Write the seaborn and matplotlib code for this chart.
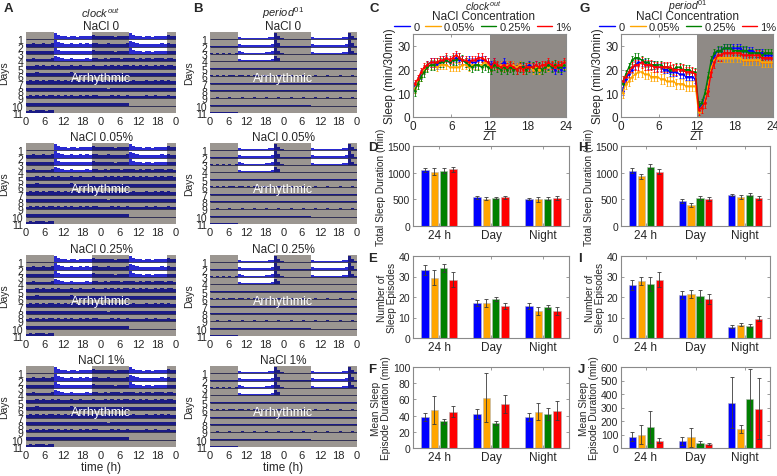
import numpy as np
import pandas as pd
import matplotlib
matplotlib.use("Agg")
import matplotlib.pyplot as plt
from matplotlib.patches import Rectangle
from matplotlib.lines import Line2D
import seaborn as sns

sns.set_style("ticks")
plt.rcParams['font.family'] = ['Liberation Sans', 'DejaVu Sans']
plt.rcParams['font.size'] = 8
plt.rcParams['mathtext.fontset'] = 'custom'
plt.rcParams['mathtext.it'] = 'Liberation Sans:italic'
plt.rcParams['mathtext.rm'] = 'Liberation Sans'

# ---------------- data ----------------
conc = ['0', '0.05%', '0.25%', '1%']
conc_colors = ['#0000ff', '#ffa500', '#008000', '#ff0000']
periods = ['24 h', 'Day', 'Night']
nacl_titles = ['NaCl 0', 'NaCl 0.05%', 'NaCl 0.25%', 'NaCl 1%']
hour_labels = ['0', '6', '12', '18', '0', '6', '12', '18', '0']

# hourly actogram activity (fraction of row height), LD and DD days
clock_ld = [0.50, 0.46, 0.55, 0.48, 0.44, 0.52, 0.47, 0.50, 0.56, 1.00, 0.75, 0.58,
            0.50, 0.45, 0.54, 0.49, 0.44, 0.52, 0.47, 0.55, 0.50, 0.62, 0.53, 0.48]
clock_dd = [0.52, 0.58, 0.48, 0.62, 0.54, 0.60, 0.50, 0.56, 0.61, 0.53, 0.59, 0.49,
            0.57, 0.52, 0.63, 0.55, 0.50, 0.60, 0.54, 0.58, 0.49, 0.61, 0.56, 0.52]
clock_levels = [1.0, 1.0, 0.95, 0.9, 0.9, 0.95, 0.9, 0.85, 0.8, 0.75, 0.75]
period_ld = [0.10, 0.08, 0.10, 0.09, 0.10, 0.08, 0.10, 0.09, 0.10, 0.45, 0.28, 0.24,
             0.22, 0.24, 0.22, 0.24, 0.25, 0.24, 0.27, 0.32, 0.45, 1.00, 0.55, 0.16]
period_dd = [0.12, 0.10, 0.14, 0.10, 0.12, 0.10, 0.14, 0.12, 0.10, 0.12, 0.14, 0.10,
             0.12, 0.10, 0.14, 0.12, 0.10, 0.12, 0.14, 0.10, 0.12, 0.10, 0.14, 0.12]
period_levels = [1.0, 1.0, 1.0, 0.9, 1.0, 1.0, 0.9, 1.0, 0.9, 0.9, 0.9]

# sleep per 30 min, ZT 0-24 (48 bins)
clk_sleep = [
    [13, 15, 18, 20, 22, 23, 23, 22, 23, 24, 24, 23, 24, 25, 24, 24, 23, 24, 23, 23, 24, 24, 24, 23,
     22, 23, 21, 22, 23, 22, 21, 22, 21, 22, 21, 21, 22, 21, 22, 21, 20, 21, 22, 21, 20, 21, 20, 21],
    [12, 15, 17, 20, 21, 22, 22, 21, 22, 22, 22, 21, 21, 21, 21, 22, 22, 21, 22, 22, 22, 22, 23, 22,
     21, 22, 21, 22, 21, 22, 21, 22, 21, 22, 20, 21, 21, 20, 21, 20, 20, 21, 21, 22, 21, 22, 21, 22],
    [11, 14, 17, 19, 21, 22, 22, 23, 23, 23, 24, 23, 24, 24, 25, 24, 23, 22, 21, 22, 22, 21, 22, 21,
     20, 22, 21, 20, 21, 20, 21, 20, 20, 21, 21, 20, 21, 21, 20, 21, 20, 21, 22, 21, 22, 21, 21, 22],
    [14, 16, 19, 21, 22, 23, 23, 23, 24, 24, 25, 24, 25, 26, 25, 24, 24, 23, 24, 24, 25, 25, 24, 23,
     21, 23, 22, 21, 22, 21, 22, 21, 20, 21, 20, 21, 21, 21, 22, 21, 22, 22, 23, 22, 21, 22, 22, 23],
]
clk_sleep_err = [1.8, 1.8, 2.0, 1.8]
per_sleep = [
    [11, 16, 18, 20, 22, 23, 23, 23, 22, 22, 22, 21, 21, 20, 20, 19, 19, 19, 18, 18, 17, 17, 17, 16,
     4, 5, 8, 14, 22, 26, 28, 28, 29, 29, 29, 29, 29, 29, 28, 28, 28, 28, 27, 27, 27, 26, 26, 26],
    [10, 14, 15, 17, 18, 19, 19, 18, 18, 17, 17, 17, 16, 16, 15, 15, 15, 14, 14, 14, 13, 13, 13, 13,
     2, 4, 7, 13, 21, 24, 25, 25, 25, 25, 25, 25, 25, 25, 24, 24, 24, 24, 24, 24, 23, 23, 23, 23],
    [14, 18, 21, 24, 25, 25, 24, 23, 23, 22, 22, 22, 22, 21, 21, 20, 20, 21, 21, 20, 20, 20, 19, 19,
     5, 6, 10, 17, 24, 27, 28, 28, 29, 29, 29, 28, 28, 28, 28, 28, 27, 27, 27, 27, 26, 27, 27, 27],
    [15, 17, 19, 21, 22, 22, 23, 22, 22, 22, 21, 21, 21, 21, 21, 21, 20, 20, 20, 20, 19, 19, 19, 18,
     3, 4, 6, 11, 19, 23, 26, 26, 27, 27, 27, 27, 27, 27, 26, 26, 26, 26, 26, 26, 25, 25, 25, 25],
]
per_sleep_err = [1.6, 2.0, 1.8, 2.2]

# bar panels: rows = concentration, columns = 24 h / Day / Night
clk_total = [[1050, 540, 505], [1020, 510, 500], [1035, 520, 510], [1060, 535, 520]]
clk_total_err = [[40, 25, 25], [60, 30, 50], [45, 20, 30], [55, 30, 35]]
clk_num = [[33, 17, 15.5], [29.5, 17, 13], [34, 19, 15], [28.5, 15.5, 13]]
clk_num_err = [[2.5, 1.5, 1.5], [3.5, 2, 2], [2, 1, 1], [3.5, 1.5, 2]]
clk_dur = [[38, 42, 38], [47, 62, 45], [33, 31, 42], [45, 54, 46]]
clk_dur_err = [[5, 6, 5], [17, 30, 10], [3, 2, 7], [7, 11, 12]]
per_total = [[1040, 470, 580], [930, 390, 550], [1110, 530, 590], [1020, 500, 530]]
per_total_err = [[40, 30, 20], [50, 35, 35], [50, 35, 20], [40, 35, 35]]
per_num = [[26, 21, 5.5], [28, 21.5, 6.5], [26.5, 20.5, 6], [28.5, 19, 9.5]]
per_num_err = [[2.5, 2, 0.7], [2, 2, 0.8], [3.5, 3, 0.8], [3.5, 2.5, 1.2]]
per_dur = [[85, 55, 335], [100, 80, 140], [155, 40, 360], [55, 30, 290]]
per_dur_err = [[30, 30, 190], [70, 70, 30], [120, 15, 225], [20, 10, 225]]

GRAY = '#9b9691'
SHADE = '#8f8a86'
NAVY = '#1b1b85'
BRIGHT = '#2a2ad0'
SPINE = '#8a8a8a'

W, H = 777, 477
fig = plt.figure(figsize=(W / 100, H / 100), dpi=100)


def px_axes(l, t, w, h):
    return fig.add_axes([l / W, 1 - (t + h) / H, w / W, h / H])


def actogram(ax, ld, dd, levels, title, bottom, label_x):
    ax.set_facecolor(GRAY)
    ax.set_xlim(0, 48)
    ax.set_ylim(0, 11)
    ax.add_patch(Rectangle((9, 7), 12, 4, color='white', lw=0))
    ax.add_patch(Rectangle((33, 8), 12, 3, color='white', lw=0))
    for r in range(1, 12):
        base = 11 - r
        for half in (0, 1):
            d = r + half
            if d > 11:
                continue
            prof = ld if d <= 4 else dd
            hrs = [h for h in range(24) if not (d == 1 and h < 9) and not (d == 11 and h >= 9)]
            xs = [24 * half + h for h in hrs]
            hs = [prof[h] * levels[d - 1] * 0.85 for h in hrs]
            cs = [BRIGHT if (d <= 4 and 9 <= h < 21) else NAVY for h in hrs]
            ax.bar(xs, hs, width=1, align='edge', bottom=base, color=cs, lw=0)
        ax.hlines(base, 0, 48, color='#20204a', lw=0.6)
    ax.text(24, 4.7, 'Arrhythmic', color='white', ha='center', va='center', fontsize=9)
    ax.set_yticks([11 - r for r in range(1, 12)])
    ax.set_yticklabels([str(r) for r in range(1, 12)], fontsize=7.5)
    ax.set_xticks(range(0, 49, 6))
    ax.set_xticklabels(hour_labels, fontsize=8)
    ax.tick_params(length=0, pad=2)
    for s in ax.spines.values():
        s.set_visible(False)
    ax.set_ylabel('Days', fontsize=7.5)
    ax.yaxis.set_label_coords(label_x, 0.5)
    ax.set_title(title, fontsize=8.5, pad=2)
    if bottom:
        ax.set_xlabel('time (h)', fontsize=8.5, labelpad=1)


def matlab_box(ax):
    for s in ax.spines.values():
        s.set_visible(True)
        s.set_color(SPINE)
        s.set_linewidth(0.8)
    ax.tick_params(direction='in', top=True, right=True, length=2.5, width=0.6,
                   color=SPINE, labelcolor='#262626', labelsize=7.5, pad=2)


def bar_panel(ax, means, errs, ylim, yticks, ylabel):
    df = pd.DataFrame({
        'period': [p for c in conc for p in periods],
        'conc': [c for c in conc for p in periods],
        'value': [v for row in means for v in row],
    })
    sns.barplot(data=df, x='period', y='value', hue='conc', hue_order=conc, order=periods,
                palette=conc_colors, width=0.72, gap=0.2, errorbar=None, legend=False,
                edgecolor='#b5b5b5', linewidth=0.4, saturation=1, ax=ax)
    bar_groups = [list(cont) for cont in ax.containers]
    for i, bars in enumerate(bar_groups):
        for j, bar in enumerate(bars):
            x = bar.get_x() + bar.get_width() / 2
            ax.errorbar(x, means[i][j], yerr=errs[i][j], fmt='none', ecolor='#3a3a3a',
                        elinewidth=0.6, capsize=1.2, capthick=0.6)
    ax.set_xlim(-0.5, 2.5)
    ax.set_ylim(*ylim)
    ax.set_yticks(yticks)
    ax.set_xlabel('')
    ax.set_ylabel(ylabel, fontsize=7.3, linespacing=1.0, labelpad=1)
    matlab_box(ax)
    ax.tick_params(axis='x', labelsize=8.5)


def line_panel(ax, series, errs, geno, cx):
    ax.axvspan(12, 24, color=SHADE, lw=0, zorder=0)
    zt = [0.25 + 0.5 * k for k in range(48)]
    for i, c in enumerate(conc):
        ax.errorbar(zt, series[i], yerr=errs[i], fmt='none', ecolor=conc_colors[i],
                    elinewidth=0.6, capsize=1.0, capthick=0.6)
    df = pd.DataFrame({
        'zt': zt * 4,
        'sleep': [v for s in series for v in s],
        'conc': [c for c in conc for _ in zt],
    })
    sns.lineplot(data=df, x='zt', y='sleep', hue='conc', hue_order=conc, palette=conc_colors,
                 lw=1.0, marker='o', markersize=2, markeredgewidth=0, legend=False, ax=ax)
    ax.set_xlim(0, 24)
    ax.set_ylim(0, 35)
    ax.set_xticks([0, 6, 12, 18, 24])
    ax.set_yticks([0, 10, 20, 30])
    ax.set_xlabel('ZT', fontsize=8.5, labelpad=-1)
    ax.set_ylabel('Sleep (min/30min)', fontsize=8.5, labelpad=1)
    matlab_box(ax)
    ax.tick_params(labelsize=8.5)
    handles = [Line2D([0], [0], color=c, lw=1.0) for c in conc_colors]
    ax.legend(handles, conc, loc='center', bbox_to_anchor=(cx / W, 1 - 22 / H),
              bbox_transform=fig.transFigure, ncol=4, frameon=False, title='NaCl Concentration',
              title_fontsize=8.5, fontsize=8, handlelength=1.4, handletextpad=0.3,
              columnspacing=0.5, borderpad=0, labelspacing=0.0, borderaxespad=0)
    fig.text(cx / W, 1 - 6.5 / H, geno, ha='center', va='center', fontsize=7.5)


clock_name = r'$\mathit{clock}^{\mathit{out}}$'
period_name = r'$\mathit{period}^{\mathit{01}}$'

tops = [33, 144, 256, 367]
for k in range(4):
    axA = px_axes(26, tops[k], 150, 81)
    actogram(axA, clock_ld, clock_dd, clock_levels, nacl_titles[k], k == 3, -0.113)
    axB = px_axes(210, tops[k], 147, 81)
    actogram(axB, period_ld, period_dd, period_levels, nacl_titles[k], k == 3, -0.105)
fig.text(101 / W, 1 - 13 / H, clock_name, ha='center', va='center', fontsize=8)
fig.text(283 / W, 1 - 13 / H, period_name, ha='center', va='center', fontsize=8)

axC = px_axes(413, 35, 153, 83)
line_panel(axC, clk_sleep, clk_sleep_err, clock_name, 483)
axG = px_axes(621, 35, 152, 83)
line_panel(axG, per_sleep, per_sleep_err, period_name, 688)

axD = px_axes(413, 147, 156, 80)
bar_panel(axD, clk_total, clk_total_err, (0, 1500), [0, 500, 1000, 1500], 'Total Sleep Duration (min)')
axE = px_axes(413, 257, 156, 82)
bar_panel(axE, clk_num, clk_num_err, (0, 40), [0, 10, 20, 30, 40], 'Number of\nSleep Episodes')
axF = px_axes(413, 368, 156, 81)
bar_panel(axF, clk_dur, clk_dur_err, (0, 100), [0, 20, 40, 60, 80, 100], 'Mean Sleep\nEpisode Duration (min)')
axH = px_axes(621, 147, 149, 80)
bar_panel(axH, per_total, per_total_err, (0, 1500), [0, 500, 1000, 1500], 'Total Sleep Duration (min)')
axI = px_axes(621, 257, 149, 82)
bar_panel(axI, per_num, per_num_err, (0, 40), [0, 10, 20, 30, 40], 'Number of\nSleep Episodes')
axJ = px_axes(621, 368, 149, 81)
bar_panel(axJ, per_dur, per_dur_err, (0, 600), [0, 100, 200, 300, 400, 500, 600], 'Mean Sleep\nEpisode Duration (min)')

letters = [('A', 4, 9), ('B', 193, 9), ('C', 369, 9), ('G', 579, 9),
           ('D', 368, 148), ('H', 578, 148), ('E', 368, 259), ('I', 578, 259),
           ('F', 368, 370), ('J', 578, 370)]
for lab, x, y in letters:
    fig.text(x / W, 1 - y / H, lab, fontsize=9.5, fontweight='bold', ha='left', va='center')

fig.savefig('out.png', dpi=100)
